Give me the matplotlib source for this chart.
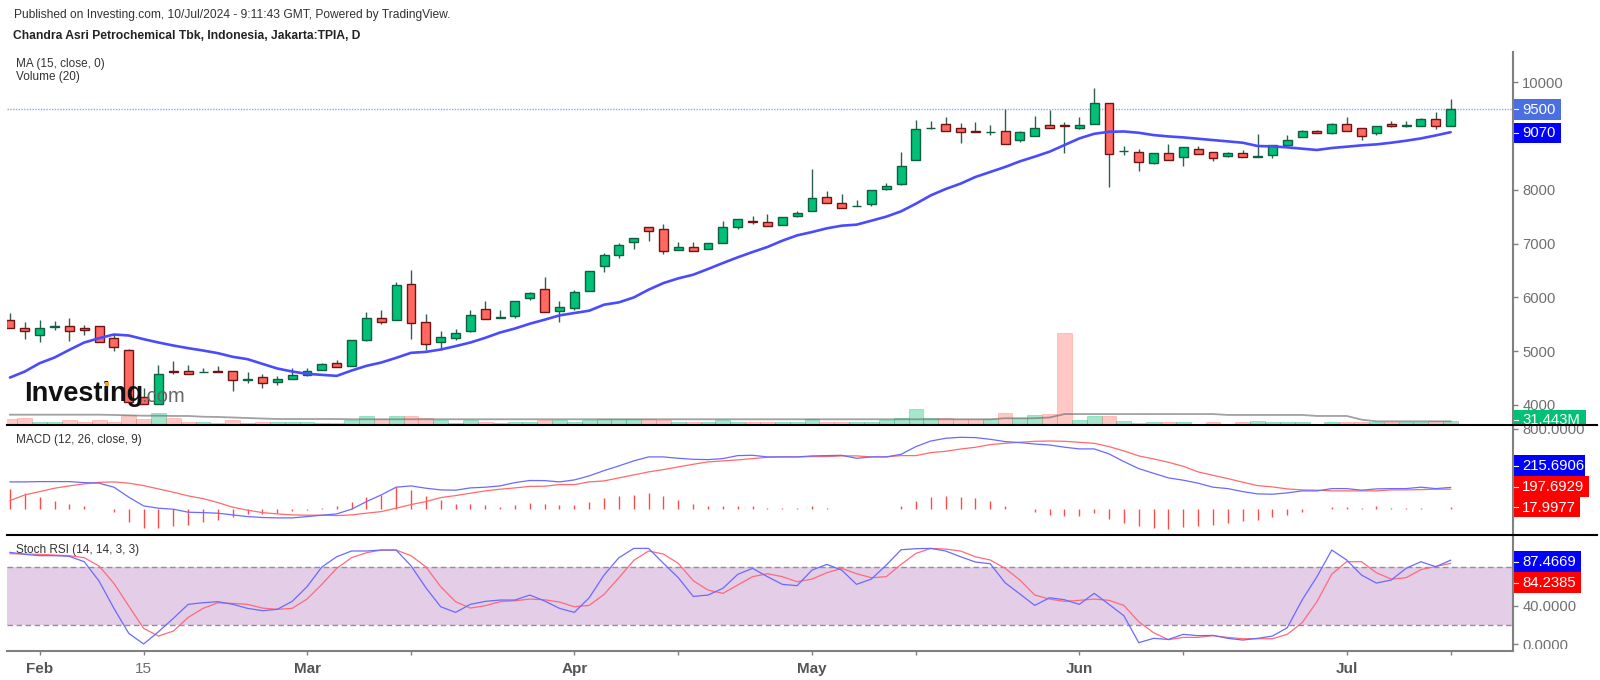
#!/usr/bin/env python3
import matplotlib
matplotlib.use('Agg')
import matplotlib.pyplot as plt
import numpy as np
from matplotlib.lines import Line2D
from matplotlib.patches import Rectangle

W, H = 1600, 680
plt.rcParams['font.family'] = ['Liberation Sans', 'DejaVu Sans']

# daily candles, one entry per trading day
opens = [5579, 5428, 5303, 5455, 5460, 5428, 5460, 5240, 5014, 4141, 4022, 4630, 4637, 4612, 4625, 4631, 4470, 4511, 4430, 4480,
         4555, 4656, 4781, 4731, 5208, 5610, 5579, 6257, 5535, 5177, 5246, 5378, 5780, 5620, 5654, 5985, 6149, 5746, 5795, 6118,
         6589, 6781, 7028, 7301, 7276, 6874, 6929, 6905, 7004, 7301, 7416, 7400, 7351, 7518, 7599, 7865, 7747, 7690, 7741, 8008,
         8107, 8553, 9140, 9222, 9148, 9090, 9068, 9098, 8925, 8997, 9200, 9195, 9139, 9225, 9613, 8720, 8708, 8505, 8683, 8610,
         8757, 8702, 8628, 8683, 8610, 8653, 8831, 8979, 9083, 9052, 9225, 9145, 9046, 9225, 9192, 9194, 9323, 9194]
highs = [5717, 5535, 5585, 5560, 5610, 5485, 5466, 5315, 5039, 4323, 4737, 4819, 4737, 4693, 4718, 4631, 4618, 4568, 4543, 4693,
         4693, 4781, 4838, 5208, 5736, 5761, 6282, 6515, 5686, 5384, 5409, 5761, 5931, 5761, 5931, 6100, 6378, 5938, 6130, 6490,
         6824, 7010, 7109, 7313, 7363, 7028, 7028, 7015, 7425, 7456, 7506, 7555, 7499, 7605, 8392, 7970, 7921, 7803, 8001, 8119,
         8708, 9296, 9278, 9352, 9247, 9253, 9203, 9501, 9098, 9379, 9477, 9256, 9354, 9890, 9613, 8813, 8751, 8690, 8843, 8788,
         8813, 8702, 8708, 8745, 9040, 8831, 9010, 9108, 9108, 9237, 9354, 9145, 9194, 9274, 9274, 9325, 9446, 9686]
lows = [5422, 5221, 5170, 5390, 5196, 5303, 5177, 4995, 4053, 4015, 4022, 4580, 4568, 4605, 4605, 4254, 4417, 4323, 4367, 4480,
        4543, 4656, 4706, 4731, 5183, 5497, 5579, 5221, 5020, 5020, 5208, 5359, 5604, 5615, 5623, 5950, 5727, 5541, 5771, 6118,
        6477, 6725, 6905, 7047, 6799, 6874, 6855, 6900, 7004, 7264, 7363, 7320, 7351, 7493, 7599, 7747, 7667, 7692, 7692, 7989,
        8088, 8553, 9123, 9092, 8869, 9073, 9017, 8850, 8887, 8997, 9145, 8677, 9120, 9225, 8043, 8647, 8357, 8480, 8554, 8437,
        8659, 8536, 8610, 8610, 8610, 8597, 8831, 8979, 9046, 9040, 9096, 8923, 9022, 9170, 9170, 9185, 9120, 9194]
closes = [5422, 5372, 5428, 5460, 5372, 5397, 5177, 5076, 4053, 4015, 4580, 4618, 4568, 4620, 4612, 4461, 4478, 4404, 4480, 4561,
          4637, 4756, 4706, 5208, 5610, 5547, 6232, 5529, 5127, 5259, 5334, 5679, 5604, 5642, 5931, 6085, 5727, 5826, 6099, 6490,
          6787, 6979, 7109, 7227, 6855, 6929, 6855, 7010, 7301, 7450, 7400, 7320, 7499, 7568, 7846, 7747, 7667, 7698, 7989, 8063,
          8435, 9123, 9145, 9092, 9073, 9075, 9073, 8850, 9073, 9151, 9145, 9180, 9200, 9613, 8659, 8726, 8511, 8690, 8554, 8788,
          8659, 8585, 8690, 8610, 8634, 8831, 8930, 9083, 9046, 9225, 9096, 8997, 9194, 9188, 9198, 9317, 9194, 9500]
ma15 = [4510, 4622, 4777, 4882, 5025, 5161, 5241, 5310, 5291, 5223, 5161, 5105, 5056, 5012, 4963, 4895, 4851, 4764, 4678, 4622,
        4578, 4560, 4541, 4640, 4727, 4789, 4876, 4969, 4987, 5031, 5093, 5161, 5248, 5347, 5421, 5510, 5585, 5665, 5709, 5752,
        5864, 5907, 5998, 6143, 6266, 6353, 6421, 6527, 6638, 6744, 6843, 6936, 7053, 7152, 7214, 7283, 7332, 7351, 7425, 7500,
        7599, 7741, 7896, 8014, 8113, 8237, 8330, 8423, 8528, 8615, 8708, 8831, 8954, 9040, 9077, 9083, 9059, 9016, 8991, 8973,
        8948, 8923, 8899, 8874, 8813, 8806, 8788, 8763, 8739, 8776, 8800, 8825, 8843, 8874, 8911, 8954, 9010, 9070]

# volume, millions
volume = [47, 55, 24, 24, 37, 26, 37, 26, 76, 47, 97, 55, 24, 26, 16, 37, 18, 26, 24, 24,
          24, 18, 18, 37, 68, 45, 68, 71, 55, 39, 18, 39, 26, 13, 24, 24, 39, 39, 24, 39,
          45, 45, 45, 45, 39, 26, 24, 24, 39, 26, 24, 24, 24, 24, 45, 24, 24, 24, 24, 39,
          55, 123, 57, 57, 47, 47, 45, 97, 57, 76, 89, 723, 39, 73, 73, 31, 18, 21, 21, 21,
          10, 21, 10, 21, 31, 21, 21, 21, 10, 21, 21, 21, 21, 21, 21, 21, 29, 31.44]
volume_ma = [81, 81, 81, 81, 81, 81, 81, 79, 76, 73, 73, 71, 71, 65, 63, 59, 55, 51, 47, 47,
             47, 47, 47, 45, 45, 45, 45, 45, 45, 45, 45, 45, 45, 45, 45, 45, 45, 45, 45, 45,
             45, 45, 45, 45, 45, 45, 45, 45, 45, 45, 45, 45, 45, 45, 45, 45, 45, 45, 45, 45,
             45, 45, 45, 45, 45, 45, 45, 53, 53, 53, 59, 86, 86, 86, 86, 86, 86, 86, 86, 86,
             86, 86, 79, 79, 79, 79, 79, 79, 71, 71, 71, 42, 29, 29, 29, 29, 29, 29]

macd = [271, 271, 274, 274, 274, 264, 258, 218, 118, 31, 8, -2, -32, -36, -42, -59, -76, -85, -89, -89,
        -76, -62, -49, -2, 74, 141, 218, 231, 208, 191, 188, 211, 218, 231, 264, 285, 284, 271, 291, 331,
        384, 431, 481, 521, 521, 507, 497, 494, 504, 534, 537, 521, 521, 521, 531, 534, 537, 507, 521, 521,
        547, 624, 680, 707, 717, 714, 697, 674, 664, 650, 640, 618, 601, 601, 551, 474, 404, 357, 311, 288,
        258, 218, 204, 174, 151, 148, 161, 181, 181, 204, 204, 188, 201, 204, 204, 218, 204, 215.69]
signal = [84, 141, 174, 208, 231, 251, 267, 271, 258, 234, 201, 168, 131, 104, 64, 18, -12, -36, -49, -59,
          -62, -62, -66, -59, -42, -26, 8, 44, 74, 114, 134, 158, 181, 198, 211, 226, 228, 244, 244, 271,
          281, 311, 341, 371, 394, 421, 447, 471, 481, 491, 504, 517, 521, 521, 524, 524, 531, 531, 521, 521,
          534, 534, 564, 577, 600, 617, 644, 657, 667, 677, 680, 677, 667, 657, 624, 581, 531, 501, 467, 427,
          371, 337, 304, 268, 234, 221, 201, 191, 188, 181, 181, 181, 181, 191, 191, 194, 198, 197.69]
hist = [200, 160, 120, 83, 53, 27, 3, -33, -133, -193, -187, -173, -160, -133, -107, -80, -53, -50, -40, -23,
        -7, 7, 33, 67, 120, 143, 220, 190, 130, 93, 55, 55, 40, 23, 40, 58, 53, 40, 40, 67,
        107, 133, 143, 160, 133, 93, 53, 30, 30, 30, 30, 13, 13, 13, 30, 13, 0, 5, 5, 0,
        30, 80, 120, 133, 120, 107, 80, 30, 0, -30, -57, -67, -67, -43, -103, -137, -170, -187, -197, -183,
        -170, -160, -140, -123, -107, -83, -60, -30, 0, 23, 23, 13, 27, 10, 7, 10, 0, 18]

stoch_k = [95.7, 93.6, 92.2, 92.2, 91.5, 85.9, 65.7, 37.2, 11.1, 0.0, 12.8, 26.8, 41.4, 43.1, 44.2, 41.4, 37.2, 34.8, 36.2, 44.5,
           59.8, 80.4, 91.1, 97.1, 97.1, 98.1, 98.1, 81.7, 58.8, 38.9, 33.0, 41.4, 44.5, 45.9, 45.9, 51.1, 44.9, 37.2, 33.0, 48.3,
           72.0, 90.1, 99.8, 99.8, 84.2, 69.2, 49.7, 51.1, 58.1, 72.7, 79.0, 70.3, 62.3, 60.9, 77.2, 83.1, 77.2, 62.3, 67.8, 82.4,
           98.4, 99.5, 99.8, 97.1, 91.1, 85.6, 83.8, 64.0, 52.2, 40.3, 48.3, 46.2, 41.4, 52.9, 41.4, 29.5, 1.4, 5.9, 4.8, 10.1,
           8.7, 9.0, 5.9, 4.1, 5.9, 8.3, 17.0, 45.9, 70.3, 98.1, 87.7, 72.0, 63.6, 66.8, 79.0, 85.9, 80.7, 87.47]
stoch_d = [94.3, 93.9, 93.6, 92.9, 92.2, 90.1, 81.4, 63.3, 39.6, 16.3, 8.3, 13.5, 27.8, 37.2, 43.1, 42.4, 41.4, 37.5, 36.2, 37.2,
           46.9, 62.3, 79.0, 90.1, 95.3, 98.1, 98.1, 92.2, 80.7, 59.8, 44.2, 37.5, 40.0, 44.2, 45.2, 46.9, 46.2, 43.8, 38.9, 40.3,
           51.8, 69.2, 87.3, 97.1, 93.9, 84.2, 66.1, 56.3, 52.9, 61.6, 70.3, 73.4, 70.3, 65.0, 67.8, 74.4, 79.0, 73.4, 69.2, 70.3,
           83.1, 94.6, 99.8, 99.1, 97.1, 91.1, 87.7, 79.0, 66.8, 51.1, 46.9, 44.5, 45.6, 46.9, 45.6, 40.3, 23.3, 11.8, 4.5, 6.9,
           6.9, 8.7, 6.9, 5.5, 5.5, 5.5, 10.1, 22.2, 44.2, 73.0, 85.9, 85.9, 74.4, 67.8, 69.2, 77.6, 81.0, 84.24]

price_ticks = [4000, 5000, 6000, 7000, 8000, 9000, 10000]
price_tick_labels = ['4000', '5000', '6000', '7000', '8000', '', '10000']
date_ticks = [2, 9, 20, 27, 38, 45, 54, 61, 72, 79, 90, 97]
date_labels = ['Feb', '15', 'Mar', '', 'Apr', '', 'May', '', 'Jun', '', 'Jul', '']
macd_ticks = [800]
macd_tick_labels = ['800.0000']
stoch_ticks = [40, 0]
stoch_tick_labels = ['40.0000', '0.0000']

GREEN = '#00c176'
RED = '#ff6960'
AXIS_GREY = '#808080'
TEXT_GREY = '#6e6e6e'

AX_LEFT, AX_RIGHT = 7, 1513
PANE_MAIN = (52, 425)
PANE_MACD = (425, 535)
PANE_STOCH = (535, 651)


def add_pane(fig, top, bottom):
    ax = fig.add_axes([AX_LEFT / W, 1 - bottom / H, (AX_RIGHT - AX_LEFT) / W, (bottom - top) / H])
    for s in ax.spines.values():
        s.set_visible(False)
    ax.patch.set_visible(False)
    ax.set_xlim(-0.2, 101.2)
    ax.yaxis.tick_right()
    ax.tick_params(axis='y', length=3.6, width=1, color=AXIS_GREY, labelcolor=TEXT_GREY,
                   labelsize=10.6, pad=3)
    ax.tick_params(axis='x', bottom=False, labelbottom=False)
    return ax


def clip_labels(ax, top, bottom):
    # tick labels get cut at the pane edges in the original
    clip = Rectangle((1514, H - bottom), 86, bottom - top, transform=None)
    for lab in ax.get_yticklabels():
        lab.set_clip_on(True)
        lab.set_clip_path(clip)


def px_text(fig, x, y, s, **kw):
    return fig.text(x / W, 1 - y / H, s, va='center', **kw)


def value_tag(fig, top, bottom, right, text, colour, text_y=None, clip_bottom=None):
    fig.add_artist(Rectangle((AX_RIGHT / W, 1 - bottom / H), (right - AX_RIGHT) / W, (bottom - top) / H,
                             transform=fig.transFigure, facecolor=colour, edgecolor='none', zorder=3))
    mid = (top + bottom) / 2 if text_y is None else text_y
    t = px_text(fig, AX_RIGHT + 9, mid + 0.5, text, color='white', fontsize=10.7, zorder=4)
    if clip_bottom is not None:
        t.set_clip_on(True)
        t.set_clip_path(Rectangle((1514, H - clip_bottom), 86, 40, transform=None))
    fig.add_artist(Line2D([(AX_RIGHT + 1) / W, (AX_RIGHT + 5) / W], [1 - mid / H, 1 - mid / H],
                          color='white', lw=0.8, zorder=4))
    return t


fig = plt.figure(figsize=(W / 100, H / 100), dpi=100, facecolor='white')
x = np.arange(len(closes))
o = np.array(opens, dtype=float)
c = np.array(closes, dtype=float)
up = c >= o

# volume sits at the bottom of the price pane on its own scale
ax_vol = add_pane(fig, *PANE_MAIN)
ax_vol.yaxis.set_visible(False)
ax_vol.set_ylim(0, 2932)
vol_colours = [GREEN if u else RED for u in up]
ax_vol.bar(x, volume, width=1.0, color=vol_colours, alpha=0.36, edgecolor=vol_colours, linewidth=0.6)
ax_vol.plot(x, volume_ma, color='#6f6f6f', lw=1.3, alpha=0.65)

ax = add_pane(fig, *PANE_MAIN)
ax.set_ylim(3628, 10560)
ax.set_yticks(price_ticks, price_tick_labels)
ax.axhline(9500, color='#8aa5f5', lw=1, ls=(0, (1, 1)), zorder=1)
ax.vlines(x, lows, highs, color='#2f5f4d', lw=1.0, zorder=2)
ax.bar(x, np.abs(c - o), bottom=np.minimum(o, c), width=0.6,
       color=[GREEN if u else RED for u in up],
       edgecolor=['#0f5f40' if u else '#6e1414' for u in up], linewidth=1.0, zorder=3)
ax.plot(x, ma15, color='#4a4aff', lw=1.9, zorder=4, solid_capstyle='round')

ax_macd = add_pane(fig, *PANE_MACD)
ax_macd.set_ylim(-260, 840)
ax_macd.set_yticks(macd_ticks, macd_tick_labels)
ax_macd.vlines(x, 0, hist, color='#ff4a4a', lw=1.0)
ax_macd.plot(x, signal, color='#ff6a6a', lw=0.9)
ax_macd.plot(x, macd, color='#6a6aff', lw=0.9)

ax_stoch = add_pane(fig, *PANE_STOCH)
ax_stoch.set_ylim(-7.3, 113.8)
ax_stoch.set_yticks(stoch_ticks, stoch_tick_labels)
ax_stoch.axhspan(20, 80, color='#e4cde6', lw=0)
for level in (20, 80):
    ax_stoch.axhline(level, color='#9a8a9e', lw=1, ls=(0, (4, 2.5)))
ax_stoch.plot(x, stoch_d, color='#ff6a7a', lw=0.9)
ax_stoch.plot(x, stoch_k, color='#6a6aff', lw=0.9)
ax_stoch.tick_params(axis='x', bottom=True, labelbottom=True, length=3, width=1, color=AXIS_GREY,
                     labelsize=11, pad=5, labelcolor='#555555')
ax_stoch.set_xticks(date_ticks, date_labels)
for lab, name in zip(ax_stoch.get_xticklabels(), date_labels):
    if name != '15':
        lab.set_fontweight('bold')
    else:
        lab.set_color(TEXT_GREY)

clip_labels(ax, *PANE_MAIN)
clip_labels(ax_macd, PANE_MACD[0], PANE_MACD[1])
clip_labels(ax_stoch, PANE_STOCH[0], 649)

# frame lines
fig.add_artist(Line2D([AX_RIGHT / W, AX_RIGHT / W], [1 - 52 / H, 1 - 651 / H], color=AXIS_GREY, lw=1.5, zorder=5))
fig.add_artist(Line2D([AX_LEFT / W, AX_RIGHT / W], [1 - 651 / H, 1 - 651 / H], color=AXIS_GREY, lw=1.5, zorder=5))
for y_line in (425, 535):
    fig.add_artist(Line2D([AX_LEFT / W, 1597 / W], [1 - y_line / H, 1 - y_line / H], color='black', lw=1.5, zorder=6))

value_tag(fig, 99, 119.5, 1561, '9500', '#4a6fe3')
value_tag(fig, 122.5, 143, 1561, '9070', '#0000ff')
value_tag(fig, 410, 425, 1586, '31.443M', GREEN, text_y=420, clip_bottom=424)
value_tag(fig, 455, 476, 1585, '215.6906', '#0000ff')
value_tag(fig, 476, 497, 1589, '197.6929', '#ff0000')
value_tag(fig, 497, 517, 1580, '17.9977', '#ff0000')
value_tag(fig, 551, 572, 1581, '87.4669', '#0000ff')
value_tag(fig, 572, 593, 1581, '84.2385', '#ff0000')

px_text(fig, 14, 15, 'Published on Investing.com, 10/Jul/2024 - 9:11:43 GMT, Powered by TradingView.',
        fontsize=8.65, color='#333333')
px_text(fig, 13, 36, 'Chandra Asri Petrochemical Tbk, Indonesia, Jakarta:TPIA, D',
        fontsize=8.7, color='#222222', fontweight='bold')
px_text(fig, 16, 64, 'MA (15, close, 0)', fontsize=8.5, color='#333333')
px_text(fig, 16, 77, 'Volume (20)', fontsize=8.5, color='#333333')
px_text(fig, 16, 440, 'MACD (12, 26, close, 9)', fontsize=8.5, color='#333333', zorder=7)
px_text(fig, 16, 550, 'Stoch RSI (14, 14, 3, 3)', fontsize=8.5, color='#333333', zorder=7)

# logo
px_text(fig, 24, 394, 'Investing', fontsize=19.5, fontweight='bold', color='#111111', zorder=7)
px_text(fig, 141, 397, '.com', fontsize=14.5, color='#666666', zorder=7)
fig.add_artist(Rectangle((105 / W, 1 - 386 / H), 4 / W, 4 / H, transform=fig.transFigure,
                         facecolor='#f5a623', edgecolor='none', zorder=8))

fig.savefig('out.png', dpi=100, facecolor='white')
